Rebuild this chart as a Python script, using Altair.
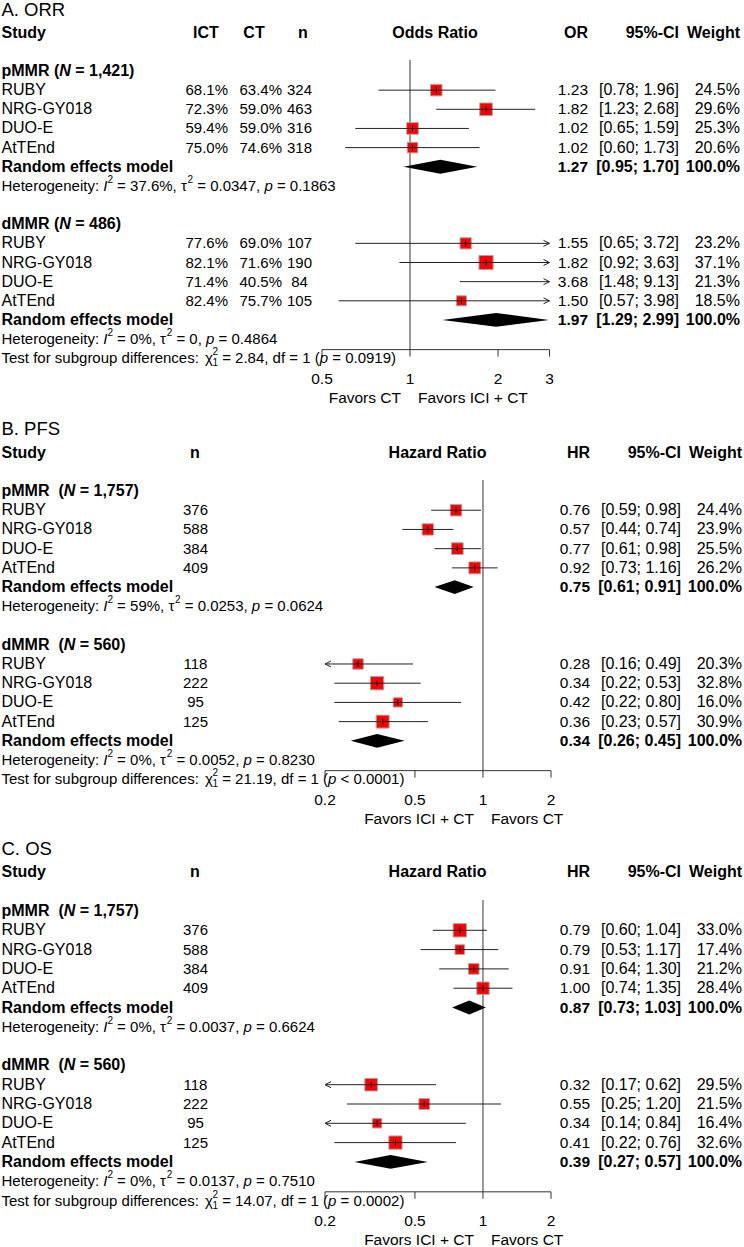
import altair as alt
import pandas as pd

FONT = "Liberation Sans"
FS = 16        # study names, headers, estimates
FS_NUM = 15    # arm percentages, heterogeneity / test lines, axis labels
SUP = 10

studies = ["RUBY", "NRG-GY018", "DUO-E", "AtTEnd"]

# ---------------- A. ORR ----------------
orr_p_ict = ["68.1%", "72.3%", "59.4%", "75.0%"]
orr_p_ct = ["63.4%", "59.0%", "59.0%", "74.6%"]
orr_p_n = [324, 463, 316, 318]
orr_p_est = [1.23, 1.82, 1.02, 1.02]
orr_p_lo = [0.78, 1.23, 0.65, 0.60]
orr_p_hi = [1.96, 2.68, 1.59, 1.73]
orr_p_w = [24.5, 29.6, 25.3, 20.6]
orr_p_pool = [1.27, 0.95, 1.70]
orr_p_het = ["37.6%", "0.0347", "0.1863"]

orr_d_ict = ["77.6%", "82.1%", "71.4%", "82.4%"]
orr_d_ct = ["69.0%", "71.6%", "40.5%", "75.7%"]
orr_d_n = [107, 190, 84, 105]
orr_d_est = [1.55, 1.82, 3.68, 1.50]
orr_d_lo = [0.65, 0.92, 1.48, 0.57]
orr_d_hi = [3.72, 3.63, 9.13, 3.98]
orr_d_w = [23.2, 37.1, 21.3, 18.5]
orr_d_pool = [1.97, 1.29, 2.99]
orr_d_het = ["0%", "0", "0.4864"]

orr_test = ["2.84", "= 0.0919"]
orr_ticks = [0.5, 1, 2, 3]

# ---------------- B. PFS ----------------
pfs_p_n = [376, 588, 384, 409]
pfs_p_est = [0.76, 0.57, 0.77, 0.92]
pfs_p_lo = [0.59, 0.44, 0.61, 0.73]
pfs_p_hi = [0.98, 0.74, 0.98, 1.16]
pfs_p_w = [24.4, 23.9, 25.5, 26.2]
pfs_p_pool = [0.75, 0.61, 0.91]
pfs_p_het = ["59%", "0.0253", "0.0624"]

pfs_d_n = [118, 222, 95, 125]
pfs_d_est = [0.28, 0.34, 0.42, 0.36]
pfs_d_lo = [0.16, 0.22, 0.22, 0.23]
pfs_d_hi = [0.49, 0.53, 0.80, 0.57]
pfs_d_w = [20.3, 32.8, 16.0, 30.9]
pfs_d_pool = [0.34, 0.26, 0.45]
pfs_d_het = ["0%", "0.0052", "0.8230"]

pfs_test = ["21.19", "< 0.0001"]
hr_ticks = [0.2, 0.5, 1, 2]

# ---------------- C. OS ----------------
os_p_n = [376, 588, 384, 409]
os_p_est = [0.79, 0.79, 0.91, 1.00]
os_p_lo = [0.60, 0.53, 0.64, 0.74]
os_p_hi = [1.04, 1.17, 1.30, 1.35]
os_p_w = [33.0, 17.4, 21.2, 28.4]
os_p_pool = [0.87, 0.73, 1.03]
os_p_het = ["0%", "0.0037", "0.6624"]

os_d_n = [118, 222, 95, 125]
os_d_est = [0.32, 0.55, 0.34, 0.41]
os_d_lo = [0.17, 0.25, 0.14, 0.22]
os_d_hi = [0.62, 1.20, 0.84, 0.76]
os_d_w = [29.5, 21.5, 16.4, 32.6]
os_d_pool = [0.39, 0.27, 0.57]
os_d_het = ["0%", "0.0137", "0.7510"]

os_test = ["14.07", "= 0.0002"]

# ---------------- text metrics (Arial / Liberation Sans advance widths) ----------------
REG_W = {" ": 278, "%": 889, "(": 333, ")": 333, ",": 278, "-": 333, ".": 278, ":": 278,
         ";": 278, "<": 584, "=": 584, "[": 278, "]": 278, "I": 278, "T": 611, "H": 722,
         "a": 556, "b": 556, "c": 500, "d": 556, "e": 556, "f": 278, "g": 556, "h": 556,
         "i": 222, "l": 222, "m": 833, "n": 556, "o": 556, "p": 556, "r": 333, "s": 500,
         "t": 278, "u": 556, "y": 500, "τ": 440, "χ": 500}
BOLD_W = {" ": 278, "%": 889, "(": 333, ")": 333, ",": 278, ".": 278, "=": 584,
          "M": 833, "N": 722, "R": 722, "d": 611, "p": 611}


def text_width(s, bold=False, size=FS):
    table = BOLD_W if bold else REG_W
    return sum(table.get(ch, 556) for ch in s) * size / 1000.0


def text_layer(row, label, x, ys, bold=False, italic=False, size=FS, align="left", dy=0):
    d = pd.DataFrame({"row": [row], "label": [label]})
    return alt.Chart(d).mark_text(
        align=align, baseline="middle", font=FONT, fontSize=size,
        fontWeight="bold" if bold else "normal",
        fontStyle="italic" if italic else "normal", dy=dy, color="black",
    ).encode(x=alt.value(x), y=alt.Y("row:Q", scale=ys, axis=None), text="label:N")


def rich_text(row, x0, parts, ys, size):
    """Chain text runs of different styles (bold, italic, super/subscripts) on one row."""
    out = []
    x = x0
    for s, style in parts:
        if style == "sup":
            out.append(text_layer(row, s, x, ys, size=SUP, dy=-6))
            x += text_width(s, False, SUP)
            continue
        if style == "supsub":
            out.append(text_layer(row, s[0], x, ys, size=SUP, dy=-6))
            out.append(text_layer(row, s[1], x, ys, size=SUP, dy=5))
            x += text_width(s[0], False, SUP)
            continue
        bold = "b" in style
        italic = "i" in style
        lead = len(s) - len(s.lstrip(" "))
        trail = len(s) - len(s.rstrip(" "))
        core = s.strip(" ")
        x += lead * text_width(" ", bold, size)
        if core:
            out.append(text_layer(row, core, x, ys, bold=bold, italic=italic, size=size))
            x += text_width(core, bold, size)
        x += trail * text_width(" ", bold, size)
    return out


def col_text(df, field, x, ys, align, bold=False, size=FS):
    return alt.Chart(df).mark_text(
        align=align, baseline="middle", font=FONT, fontSize=size,
        fontWeight="bold" if bold else "normal", color="black",
    ).encode(x=alt.value(x), y=alt.Y("row:Q", scale=ys, axis=None), text=f"{field}:N")


AXIS_ROW = 14.55
LABEL_ROW = 16.08
FAVOR_ROW = 17.05
TOP = 71.0
LEFT = 1.5


def panel(title, effect_head, est_head, groups, test, ticks, favors, cfg, with_arms):
    step, H = cfg["step"], cfg["height"]
    ys = alt.Scale(domain=[-TOP / step, (H - TOP) / step], range=[0, H], nice=False, zero=False)
    dmin, dmax = ticks[0], ticks[-1]
    xs = alt.Scale(type="log", domain=[dmin, dmax], range=cfg["xrange"], nice=False)

    def X(f):
        return alt.X(f, type="quantitative", scale=xs, axis=None)

    def Y(f):
        return alt.Y(f, type="quantitative", scale=ys, axis=None)

    recs, pools, dia = [], [], []
    for gi, g in enumerate(groups):
        base = gi * 8
        for i, s in enumerate(studies):
            est, lo, hi, w = g["est"][i], g["lo"][i], g["hi"][i], g["w"][i]
            r = base + 1 + i
            recs.append(dict(
                row=r, study=s, n=str(g["n"][i]),
                ict=g["ict"][i] if with_arms else "", ct=g["ct"][i] if with_arms else "",
                est=est, lo_c=max(lo, dmin), hi_c=min(hi, dmax), w=w,
                larrow=lo < dmin, rarrow=hi > dmax, shown=dmin <= est <= dmax,
                tt=r - 0.16, tb=r + 0.16,
                est_t=f"{est:.2f}", ci_t=f"[{lo:.2f}; {hi:.2f}]", w_t=f"{w:.1f}%",
            ))
        pe, pl, ph = g["pool"]
        pr = base + 5
        pools.append(dict(row=pr, label="Random effects model", est_t=f"{pe:.2f}",
                          ci_t=f"[{pl:.2f}; {ph:.2f}]", w_t="100.0%"))
        h = 0.36
        dia += [dict(g=gi, x=pl, y=pr, y2=pr), dict(g=gi, x=pe, y=pr - h, y2=pr + h),
                dict(g=gi, x=ph, y=pr, y2=pr)]
    sd = pd.DataFrame(recs)
    pdf = pd.DataFrame(pools)
    ddf = pd.DataFrame(dia)

    L = []
    # reference line at 1
    L.append(alt.Chart(pd.DataFrame({"x": [1.0], "y": [-0.57], "y2": [AXIS_ROW]}))
             .mark_rule(color="#555555", strokeWidth=1.2)
             .encode(x=X("x"), y=Y("y"), y2="y2"))
    # x axis drawn from the scale
    L.append(alt.Chart(pd.DataFrame({"x": [dmin], "x2": [dmax], "y": [AXIS_ROW]}))
             .mark_rule(color="#333333", strokeWidth=1)
             .encode(x=X("x"), x2="x2", y=Y("y")))
    tdf = pd.DataFrame({"x": ticks, "y": [AXIS_ROW] * len(ticks),
                        "y2": [AXIS_ROW + 7.0 / step] * len(ticks),
                        "lab": [f"{t:g}" for t in ticks], "ly": [LABEL_ROW] * len(ticks)})
    L.append(alt.Chart(tdf).mark_rule(color="#333333", strokeWidth=1)
             .encode(x=X("x"), y=Y("y"), y2="y2"))
    L.append(alt.Chart(tdf).mark_text(font=FONT, fontSize=15.5, baseline="middle", color="black")
             .encode(x=X("x"), y=Y("ly"), text="lab:N"))
    fdf = pd.DataFrame({"x": [1.0], "y": [FAVOR_ROW], "l": [favors[0]], "r": [favors[1]]})
    L.append(alt.Chart(fdf).mark_text(font=FONT, fontSize=15.5, baseline="middle", align="right",
                                      dx=-9, color="black")
             .encode(x=X("x"), y=Y("y"), text="l:N"))
    L.append(alt.Chart(fdf).mark_text(font=FONT, fontSize=15.5, baseline="middle", align="left",
                                      dx=8, color="black")
             .encode(x=X("x"), y=Y("y"), text="r:N"))

    # study squares, CI lines, estimate ticks and arrows
    L.append(alt.Chart(sd[sd["shown"]]).mark_square(
        color="#ff0000", filled=True, stroke="#a8a8a8", strokeWidth=1, opacity=1)
        .encode(x=X("est"), y=Y("row"),
                size=alt.Size("w:Q", scale=alt.Scale(domain=[0, 100], range=[0, cfg["sq"] * 100]),
                              legend=None)))
    L.append(alt.Chart(sd).mark_rule(color="#222222", strokeWidth=1)
             .encode(x=X("lo_c"), x2="hi_c", y=Y("row")))
    L.append(alt.Chart(sd[sd["shown"]]).mark_rule(color="#111111", strokeWidth=1)
             .encode(x=X("est"), y=Y("tt"), y2="tb"))
    if sd["rarrow"].any():
        L.append(alt.Chart(sd[sd["rarrow"]]).mark_point(
            shape="M -1 -0.5 L 0 0 L -1 0.5", filled=False, stroke="#222222", strokeWidth=1,
            size=144, opacity=1).encode(x=X("hi_c"), y=Y("row")))
    if sd["larrow"].any():
        L.append(alt.Chart(sd[sd["larrow"]]).mark_point(
            shape="M 1 -0.5 L 0 0 L 1 0.5", filled=False, stroke="#222222", strokeWidth=1,
            size=144, opacity=1).encode(x=X("lo_c"), y=Y("row")))
    # pooled diamonds
    L.append(alt.Chart(ddf).mark_area(color="black", opacity=1, orient="vertical",
                                      interpolate="linear")
             .encode(x=X("x"), y=Y("y"), y2="y2", detail="g:N"))

    # title and header
    L.append(text_layer(-3.2, title, LEFT, ys, size=18.5))
    c = cfg["cols"]
    L.append(text_layer(-2, "Study", LEFT, ys, bold=True))
    if with_arms:
        L.append(text_layer(-2, "ICT", c["ict_h"], ys, bold=True, align="center"))
        L.append(text_layer(-2, "CT", c["ct_h"], ys, bold=True, align="center"))
    L.append(text_layer(-2, "n", c["n_h"], ys, bold=True, align="center"))
    L.append(text_layer(-2, effect_head, c["eff_h"], ys, bold=True, align="center"))
    L.append(text_layer(-2, est_head, c["est"], ys, bold=True, align="right"))
    L.append(text_layer(-2, "95%-CI", c["ci"], ys, bold=True, align="right"))
    L.append(text_layer(-2, "Weight", c["w"], ys, bold=True, align="right"))

    # table columns
    L.append(col_text(sd, "study", LEFT, ys, "left"))
    if with_arms:
        L.append(col_text(sd, "ict", c["ict"], ys, "right", size=FS_NUM))
        L.append(col_text(sd, "ct", c["ct"], ys, "right", size=FS_NUM))
    L.append(col_text(sd, "n", c["n"], ys, "center", size=FS_NUM))
    L.append(col_text(sd, "est_t", c["est"], ys, "right", size=15.5))
    L.append(col_text(sd, "ci_t", c["ci"], ys, "right"))
    L.append(col_text(sd, "w_t", c["w"], ys, "right"))
    L.append(col_text(pdf, "label", LEFT, ys, "left", bold=True))
    L.append(col_text(pdf, "est_t", c["est"], ys, "right", bold=True, size=15.5))
    L.append(col_text(pdf, "ci_t", c["ci"], ys, "right", bold=True))
    L.append(col_text(pdf, "w_t", c["w"], ys, "right", bold=True))

    # subgroup headings and heterogeneity lines
    for gi, g in enumerate(groups):
        base = gi * 8
        L += rich_text(base, LEFT, [(g["name"], "b"), (" " * g["gap"] + "(", "b"), ("N", "bi"),
                                    (f" = {g['N']})", "b")], ys, FS)
        i2, t2, p = g["het"]
        L += rich_text(base + 6, LEFT, [("Heterogeneity: ", "r"), ("I", "i"), ("2", "sup"),
                                        (f" = {i2}, ", "r"), ("τ", "r"), ("2", "sup"),
                                        (f" = {t2}, ", "r"), ("p", "i"), (f" = {p}", "r")],
                       ys, FS_NUM)
    L += rich_text(15, LEFT, [("Test for subgroup differences: ", "r"), ("χ", "r"),
                              ("21", "supsub"), (f" = {test[0]}, df = 1 (", "r"), ("p", "i"),
                              (f" {test[1]})", "r")], ys, FS_NUM)

    return alt.layer(*L).properties(width=744, height=H)


cols_a = dict(ict=228, ct=282, n=299.5, est=588, ci=679, w=740,
              ict_h=206, ct_h=254, n_h=303, eff_h=435)
cols_b = dict(n=195.5, est=590, ci=681, w=742, n_h=195, eff_h=437.5)

groups_a = [
    dict(name="pMMR", gap=1, N="1,421", ict=orr_p_ict, ct=orr_p_ct, n=orr_p_n, est=orr_p_est,
         lo=orr_p_lo, hi=orr_p_hi, w=orr_p_w, pool=orr_p_pool, het=orr_p_het),
    dict(name="dMMR", gap=1, N="486", ict=orr_d_ict, ct=orr_d_ct, n=orr_d_n, est=orr_d_est,
         lo=orr_d_lo, hi=orr_d_hi, w=orr_d_w, pool=orr_d_pool, het=orr_d_het),
]
groups_b = [
    dict(name="pMMR", gap=2, N="1,757", n=pfs_p_n, est=pfs_p_est, lo=pfs_p_lo, hi=pfs_p_hi,
         w=pfs_p_w, pool=pfs_p_pool, het=pfs_p_het),
    dict(name="dMMR", gap=2, N="560", n=pfs_d_n, est=pfs_d_est, lo=pfs_d_lo, hi=pfs_d_hi,
         w=pfs_d_w, pool=pfs_d_pool, het=pfs_d_het),
]
groups_c = [
    dict(name="pMMR", gap=2, N="1,757", n=os_p_n, est=os_p_est, lo=os_p_lo, hi=os_p_hi,
         w=os_p_w, pool=os_p_pool, het=os_p_het),
    dict(name="dMMR", gap=2, N="560", n=os_d_n, est=os_d_est, lo=os_d_lo, hi=os_d_hi,
         w=os_d_w, pool=os_d_pool, het=os_d_het),
]

panel_a = panel("A. ORR", "Odds Ratio", "OR", groups_a, orr_test, orr_ticks,
                ["Favors CT", "Favors ICI + CT"],
                dict(step=19.15, height=420, xrange=[322, 549.5], sq=5.4, cols=cols_a), True)
panel_b = panel("B. PFS", "Hazard Ratio", "HR", groups_b, pfs_test, hr_ticks,
                ["Favors ICI + CT", "Favors CT"],
                dict(step=19.22, height=420, xrange=[325, 551], sq=6.0, cols=cols_b), False)
panel_c = panel("C. OS", "Hazard Ratio", "HR", groups_c, os_test, hr_ticks,
                ["Favors ICI + CT", "Favors CT"],
                dict(step=19.3, height=407, xrange=[325, 551], sq=6.6, cols=cols_b), False)

chart = (
    alt.vconcat(panel_a, panel_b, panel_c, spacing=0, bounds="flush")
    .properties(padding=0)
    .configure(background="white")
    .configure_view(stroke=None)
)

chart.save("out.html", embed_options={"renderer": "svg", "actions": False})
